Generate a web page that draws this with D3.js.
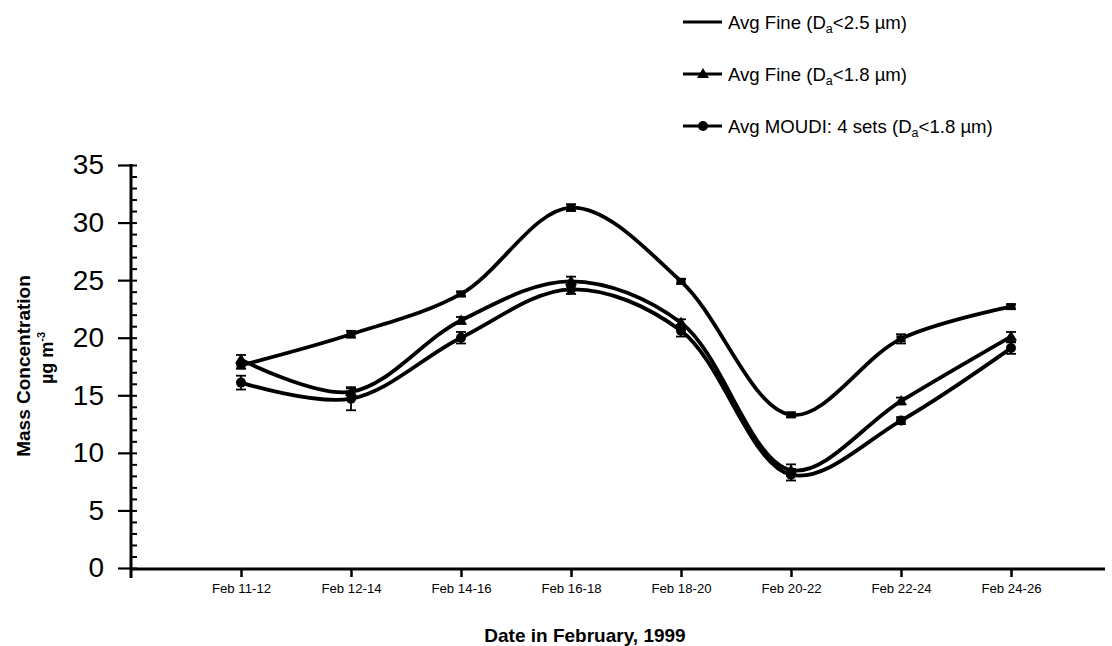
<!DOCTYPE html>
<html><head><meta charset="utf-8">
<script src="https://cdn.jsdelivr.net/npm/d3@7"></script>
<style>body{margin:0;background:#fff}svg{display:block}</style>
</head><body><svg id="c" width="1112" height="646"></svg>
<script>
const categories = ["Feb 11-12","Feb 12-14","Feb 14-16","Feb 16-18","Feb 18-20","Feb 20-22","Feb 22-24","Feb 24-26"];
const fine25 = [17.6, 20.3, 23.8, 31.3, 24.9, 13.3, 19.9, 22.7];
const fine25Err = [0.3, 0.3, 0.2, 0.3, 0.2, 0.2, 0.4, 0.2];
const fine18 = [18.1, 15.3, 21.5, 24.9, 21.3, 8.5, 14.5, 20.1];
const fine18Err = [0.4, 0.3, 0.3, 0.4, 0.3, 0.5, 0.3, 0.4];
const moudi = [16.1, 14.7, 20.0, 24.2, 20.6, 8.1, 12.8, 19.1];
const moudiErr = [0.6, 1.0, 0.5, 0.4, 0.5, 0.5, 0.3, 0.5];
const yTicks = [0, 5, 10, 15, 20, 25, 30, 35];
const yMinorTicks = d3.range(0, 36, 1);
const seriesNames = ["Avg Fine (D|a|<2.5 µm)", "Avg Fine (D|a|<1.8 µm)", "Avg MOUDI: 4 sets (D|a|<1.8 µm)"];

const svg = d3.select("#c");
const FONT = "'Liberation Sans', Arial, Helvetica, sans-serif";
const x = d3.scalePoint().domain(categories).range([241, 1011]);
const y = d3.scaleLinear().domain([0, 35]).range([568, 165]);
const x0 = 131, xEnd = 1105;

// Y axis (major)
const gy = svg.append("g").attr("transform", `translate(${x0},0)`)
  .call(d3.axisLeft(y).tickValues(yTicks).tickSize(13).tickSizeOuter(0).tickPadding(14));
gy.select(".domain").remove();
gy.selectAll(".tick line").attr("stroke", "#000").attr("stroke-width", 2.2);
gy.selectAll(".tick text").attr("font-family", FONT).attr("font-size", 28).attr("fill", "#000");
// minor ticks (right side)
const gym = svg.append("g").attr("transform", `translate(${x0},0)`)
  .call(d3.axisRight(y).tickValues(yMinorTicks).tickSize(6).tickFormat(""));
gym.select(".domain").remove();
gym.selectAll(".tick line").attr("stroke", "#000").attr("stroke-width", 2);
svg.append("line").attr("x1", x0).attr("x2", x0).attr("y1", y(35) - 1).attr("y2", y(0) + 10)
  .attr("stroke", "#000").attr("stroke-width", 3);

// X axis
const gx = svg.append("g").attr("transform", `translate(0,${y(0) + 1})`)
  .call(d3.axisBottom(x).tickSize(8).tickSizeOuter(0));
gx.select(".domain").remove();
gx.selectAll(".tick line").attr("stroke", "#000").attr("stroke-width", 2.5);
gx.selectAll(".tick text").attr("font-family", FONT).attr("font-size", 13.2).attr("fill", "#000")
  .attr("y", 15).attr("dy", "0.71em");
svg.append("line").attr("x1", x0 - 1).attr("x2", xEnd).attr("y1", y(0) + 1).attr("y2", y(0) + 1)
  .attr("stroke", "#000").attr("stroke-width", 3);

// Axis titles
svg.append("text").attr("x", 585).attr("y", 642).attr("text-anchor", "middle")
  .attr("font-family", FONT).attr("font-weight", "bold").attr("font-size", 19).attr("fill", "#000")
  .text("Date in February, 1999");
const yt = svg.append("g").attr("transform", "translate(30,366) rotate(-90)");
yt.append("text").attr("text-anchor", "middle").attr("font-family", FONT).attr("font-weight", "bold")
  .attr("font-size", 19).attr("fill", "#000").text("Mass Concentration");
const yt2 = yt.append("text").attr("x", 8).attr("y", 23).attr("text-anchor", "middle").attr("font-family", FONT)
  .attr("font-weight", "bold").attr("font-size", 18).attr("fill", "#000");
yt2.append("tspan").text("µg m");
yt2.append("tspan").attr("dy", -8).attr("font-size", 11).text("-3");

// Series
const series = [
  {vals: fine25, err: fine25Err, sym: "square"},
  {vals: fine18, err: fine18Err, sym: "triangle"},
  {vals: moudi, err: moudiErr, sym: "circle"}
];
const line = d3.line().x((d, i) => x(categories[i])).y(d => y(d)).curve(d3.curveCatmullRom.alpha(0.5));

function drawMarker(g, sym, cx, cy) {
  if (sym === "square") {
    g.append("rect").attr("x", cx - 4.5).attr("y", cy - 3.5).attr("width", 9).attr("height", 7).attr("fill", "#000");
  } else if (sym === "triangle") {
    g.append("path").attr("d", `M${cx},${cy - 6}L${cx + 6},${cy + 4}L${cx - 6},${cy + 4}Z`).attr("fill", "#000");
  } else {
    g.append("circle").attr("cx", cx).attr("cy", cy).attr("r", 5).attr("fill", "#000");
  }
}

series.forEach(s => {
  const g = svg.append("g");
  g.append("path").attr("d", line(s.vals)).attr("fill", "none").attr("stroke", "#000").attr("stroke-width", 3.8);
  s.vals.forEach((v, i) => {
    const cx = x(categories[i]);
    const lo = y(v - s.err[i]), hi = y(v + s.err[i]);
    g.append("line").attr("x1", cx).attr("x2", cx).attr("y1", lo).attr("y2", hi).attr("stroke", "#000").attr("stroke-width", 1.8);
    [lo, hi].forEach(yy => g.append("line").attr("x1", cx - 5).attr("x2", cx + 5).attr("y1", yy).attr("y2", yy)
      .attr("stroke", "#000").attr("stroke-width", 1.8));
    drawMarker(g, s.sym, cx, y(v));
  });
});

// Legend
const legY = [22, 74, 126];
seriesNames.forEach((name, i) => {
  const g = svg.append("g");
  g.append("line").attr("x1", 683).attr("x2", 722).attr("y1", legY[i]).attr("y2", legY[i])
    .attr("stroke", "#000").attr("stroke-width", 3.2);
  if (i > 0) drawMarker(g, series[i].sym, 703, legY[i]);
  const parts = name.split("|");
  const t = g.append("text").attr("x", 728).attr("y", legY[i] + 6.5).attr("font-family", FONT)
    .attr("font-size", 18.6).attr("fill", "#000");
  t.append("tspan").text(parts[0]);
  t.append("tspan").attr("dy", 4).attr("font-size", 12.5).text(parts[1]);
  t.append("tspan").attr("dy", -4).text(parts[2]);
});
</script></body></html>
